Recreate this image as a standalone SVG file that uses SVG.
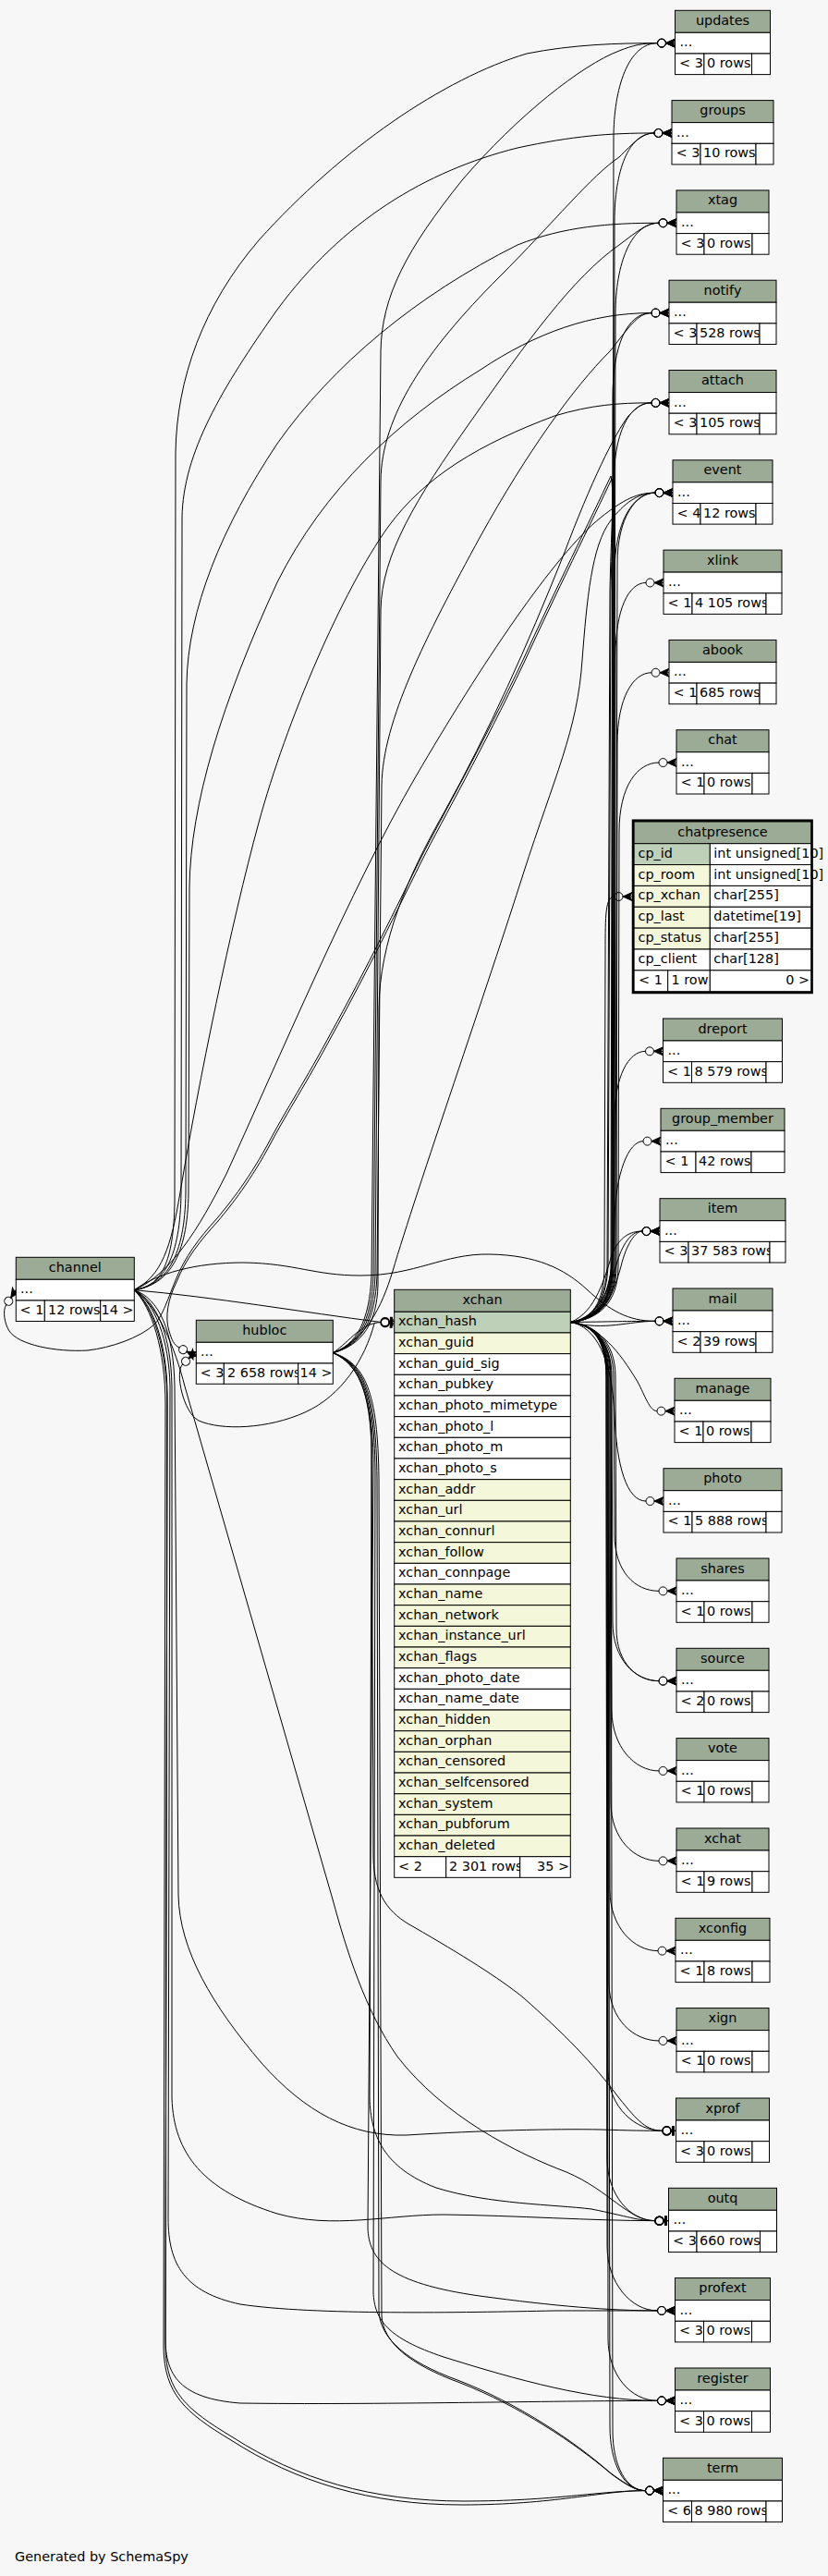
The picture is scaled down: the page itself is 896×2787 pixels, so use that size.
<svg xmlns="http://www.w3.org/2000/svg" width="896" height="2787" viewBox="0 0 896 2787">
<style>
text{font-family:"DejaVu Sans","Liberation Sans",sans-serif;font-size:14.4px;fill:#000}
.c{text-anchor:middle}
.r{text-anchor:end}
.h{fill:#9bab96;stroke:#000;stroke-width:1}
.w{fill:#fff;stroke:#000;stroke-width:1}
.p{fill:#bed1b8;stroke:#000;stroke-width:1}
.y{fill:#f4f7da;stroke:#000;stroke-width:1}
#connectors path{fill:none;stroke:#000;stroke-width:1}
#connectors path.ce{marker-end:url(#cro)}
#connectors path.te{marker-end:url(#teo)}
</style>
<defs>
<marker id="cro" markerUnits="userSpaceOnUse" orient="auto" markerWidth="20" markerHeight="12" refX="0" refY="6" overflow="visible">
<circle cx="4.5" cy="6" r="4.5" fill="none" stroke="#000" stroke-width="1"/>
<path d="M9,6 L19,6 M9,6 L19,1.5 L16.5,6 L19,10.5 Z" fill="#000" stroke="#000" stroke-width="1"/>
</marker>
<marker id="teo" markerUnits="userSpaceOnUse" orient="auto" markerWidth="16" markerHeight="12" refX="0" refY="6" overflow="visible">
<circle cx="4.5" cy="6" r="4.5" fill="none" stroke="#000" stroke-width="1.5"/>
<path d="M9,6 L14.5,6" stroke="#000" stroke-width="1"/>
<rect x="10" y="1" width="3" height="10" fill="#000"/>
</marker>
</defs>
<rect x="0" y="0" width="896" height="2787" fill="#f7f7f7"/>

<g id="connectors">
<!-- channel up -->
<path class="ce" d="M145.3,1395.7 C175,1392 188,1365 189,1300 L190,490 C191,410 220,330 280,260 C370,160 480,85 570,58 C620,48 670,46.65 711.5,46.65"/>
<path class="ce" d="M145.3,1395.7 C178,1390 195,1360 196,1290 L197,560 C198,490 240,420 300,335 C370,240 460,185 560,160 C620,147 660,143.95 708,143.95"/>
<path class="ce" d="M145.3,1395.7 C180,1390 200,1360 201,1290 L202,740 C203,660 240,570 300,480 C360,395 450,320 560,265 C610,245 660,241.25 713,241.25"/>
<path class="ce" d="M145.3,1395.7 C182,1390 203,1360 204,1290 L205,960 C206,870 240,760 300,630 C350,530 430,455 520,400 C580,360 640,338.55 705,338.55"/>
<path class="ce" d="M145.3,1395.7 C175,1380 185,1350 195,1290 C215,1170 250,1000 280,890 C310,780 370,640 420,570 C460,515 520,480 600,450 C640,438 670,435.85 705,435.85"/>
<path class="ce" d="M145.3,1395.7 C185,1378 215,1330 245,1270 C300,1150 380,960 450,840 C520,720 600,600 650,560 C675,540 690,533.15 709,533.15"/>
<!-- channel to xchan / mail -->
<path class="te" d="M145.3,1395.7 C230,1403 330,1420 412.2,1430.5"/>
<path class="ce" d="M145.3,1395.7 C170,1378 210,1366 264,1366 C320,1367 340,1380 390,1380 C450,1380 480,1356 530,1357 C580,1358 610,1372 635,1395 C660,1418 680,1429.35 709,1429.35"/>
<!-- channel down -->
<path class="te" d="M145.3,1395.7 C172,1405 188,1440 189,1500 L193,2050 C194,2110 230,2170 283,2232 C330,2285 380,2312 440,2310 C520,2305 600,2303 650,2304 C680,2305 700,2305.35 717,2305.35"/>
<path class="te" d="M145.3,1395.7 C170,1408 185,1445 186,1500 L186,2270 C188,2330 220,2370 300,2395 C360,2412 420,2396 480,2396 C560,2397 640,2402.65 709,2402.65"/>
<path class="te" d="M145.3,1395.7 C170,1410 190,1460 200,1500 L360,2055 C375,2110 395,2175 430,2225 C480,2290 560,2330 613,2350 C660,2370 680,2402.65 709,2402.65"/>
<path class="ce" d="M145.3,1395.7 C168,1410 183,1450 184,1500 L182,2400 C182,2450 200,2480 260,2493 C340,2505 500,2502 600,2500 C650,2499.95 690,2499.95 711.5,2499.95"/>
<path class="ce" d="M145.3,1395.7 C166,1412 181,1455 181,1510 L179,2530 C179,2570 195,2595 260,2600 C400,2602 600,2597.35 711.5,2597.35"/>
<path class="ce" d="M145.3,1395.7 C164,1414 179,1460 179,1520 L177,2540 C178,2590 200,2610 250,2640 C320,2685 400,2710 500,2710 C600,2710 650,2694.65 698.5,2694.65"/>
<path class="ce" d="M145.3,1395.7 C166,1414 181,1460 181,1520 L179,2540 C180,2588 202,2607 252,2637 C322,2682 402,2706 502,2706 C600,2706 650,2694.65 698.5,2694.65"/>
<!-- hubloc up -->
<path class="ce" d="M360.3,1463.7 C385,1455 400,1430 402,1380 L412,380 C413,320 440,270 500,195 C560,125 630,70 670,55 C685,49 695,46.65 711.5,46.65"/>
<path class="ce" d="M360.3,1463.7 C387,1455 402,1430 404,1380 L412,520 C413,450 460,380 540,300 C600,240 640,190 670,170 C685,155 695,143.95 708,143.95"/>
<path class="ce" d="M360.3,1463.7 C389,1455 404,1430 406,1380 L412,660 C413,600 450,540 510,455 C570,370 620,300 670,265 C690,250 700,241.25 713,241.25"/>
<path class="ce" d="M360.3,1463.7 C391,1455 406,1430 408,1380 L413,850 C414,780 460,690 520,580 C570,490 620,420 660,380 C680,355 690,338.55 705,338.55"/>
<path class="ce" d="M360.3,1463.7 C393,1455 408,1430 409,1390 L410,1090 C411,1020 440,950 480,880 C530,790 570,700 610,600 C640,520 665,470 680,450 C690,440 695,435.85 705,435.85"/>
<path class="ce" d="M360.3,1463.7 C395,1450 413,1415 425,1375 C450,1290 530,1060 566,946 C600,840 625,790 630,714 C635,650 640,590 661,563 C675,545 690,533.15 709,533.15"/>
<path class="te" d="M360.3,1463.7 C380,1450 390,1432 412.2,1430.5"/>
<!-- hubloc down -->
<path class="te" d="M360.3,1463.7 C385,1475 400,1500 402,1560 L404,2010 C405,2050 420,2070 448,2085 C500,2115 540,2140 566,2161 C610,2200 640,2230 670,2270 C690,2295 700,2305.35 717,2305.35"/>
<path class="te" d="M360.3,1463.7 C387,1475 401,1505 402,1570 L400,2270 C401,2310 415,2345 472,2367 C530,2385 600,2385 640,2390 C680,2398 690,2402.65 709,2402.65"/>
<path class="ce" d="M360.3,1463.7 C389,1475 403,1505 404,1580 L398,2410 C399,2445 420,2470 519,2484 C600,2495 660,2499.95 711.5,2499.95"/>
<path class="ce" d="M360.3,1463.7 C391,1475 405,1505 406,1590 L404,2480 C405,2510 420,2530 480,2550 C560,2575 640,2597.35 711.5,2597.35"/>
<path class="ce" d="M360.3,1463.7 C393,1475 407,1505 408,1600 L410,2500 C411,2530 440,2555 495,2575 C560,2600 620,2640 660,2675 C680,2690 690,2694.65 698.5,2694.65"/>
<path class="ce" d="M360.3,1463.7 C395,1475 409,1505 410,1600 L413,2505 C414,2534 443,2558 498,2578 C562,2603 622,2643 662,2677 C681,2691 690,2694.65 698.5,2694.65"/>
<!-- back edges into channel and hubloc -->
<path class="ce" d="M617.3,1430.5 C640,1428 655,1410 657,1370 L660,640 C661,580 665,530 661,515 C640,560 600,640 566,714 C520,810 480,880 455,929 C420,1000 390,1060 359,1116 C330,1170 310,1200 293,1232 C270,1275 250,1300 235,1318 C215,1340 200,1360 190,1385 C180,1410 175,1425 167,1433 C150,1448 120,1458 95,1461 C60,1463 20,1455 10,1440 C5,1432 2.4,1418.2 6.8,1411.5"/>
<path class="ce" d="M617.3,1430.5 C641,1428 656,1410 658,1370 L661,640 C662,580 666,532 662,518 C641,563 601,643 567,717 C521,813 481,883 456,932 C421,1003 391,1063 360,1119 C331,1173 311,1203 294,1235 C271,1278 251,1303 236,1321 C216,1343 201,1362 191,1387 C182,1405 178,1425 183,1440 C186,1450 188,1455 194.1,1458.1"/>
<path class="ce" d="M405,1432 C395,1470 370,1510 330,1528 C290,1546 240,1548 215,1537 C198,1528 189,1484 197.7,1475.9"/>
<!-- xchan up -->
<path class="ce" d="M617.3,1430.5 C642,1428 662,1410 662,1370 L664,150 C664,95 680,46.65 711.5,46.65"/>
<path class="ce" d="M617.3,1430.5 C643,1428 663,1410 663,1370 L665,240 C665,185 680,143.95 708,143.95"/>
<path class="ce" d="M617.3,1430.5 C644,1428 664,1410 664,1370 L666,340 C666,285 683,241.25 713,241.25"/>
<path class="ce" d="M617.3,1430.5 C642,1428 661,1410 661,1370 L663,430 C663,375 678,338.55 705,338.55"/>
<path class="ce" d="M617.3,1430.5 C643,1428 662,1410 662,1370 L664,525 C664,470 680,435.85 705,435.85"/>
<path class="ce" d="M617.3,1430.5 C644,1428 663,1410 663,1370 L665,620 C665,565 685,533.15 709,533.15"/>
<path class="ce" d="M617.3,1430.5 C645,1428 666,1410 666,1370 L668,610 C668,560 688,533.15 709,533.15"/>
<path class="ce" d="M617.3,1430.5 C645,1428 665,1410 665,1370 L666,710 C666,660 680,630.45 699,630.45"/>
<path class="ce" d="M617.3,1430.5 C646,1428 667,1410 667,1370 L668,805 C668,755 685,727.75 705,727.75"/>
<path class="ce" d="M617.3,1430.5 C647,1428 669,1410 669,1370 L670,900 C670,850 690,825.05 713,825.05"/>
<path class="ce" d="M617.3,1430.5 C640,1428 654,1410 654,1370 L655,1030 C655,990 655,970 665,970"/>
<path class="ce" d="M617.3,1430.5 C648,1428 663,1400 664,1340 L665,1210 C665,1165 680,1137.35 698.5,1137.35"/>
<path class="ce" d="M617.3,1430.5 C650,1428 664,1400 665,1320 C666,1270 680,1234.65 696,1234.65"/>
<path class="ce" d="M617.3,1430.5 C650,1425 660,1390 668,1365 C675,1342 685,1332.05 695,1332.05"/>
<path class="ce" d="M617.3,1430.5 C655,1428 665,1395 672,1370 C678,1345 688,1332.05 695,1332.05"/>
<path class="ce" d="M617.3,1430.5 C645,1420 655,1380 662,1358 C670,1338 682,1332.05 695,1332.05"/>
<path class="ce" d="M617.3,1430.5 C660,1430 680,1429.35 709,1429.35"/>
<path class="ce" d="M617.3,1430.5 C655,1440 680,1429.35 709,1429.35"/>
<!-- xchan down -->
<path class="ce" d="M617.3,1430.5 C650,1436 670,1462 690,1495 C698,1510 703,1526.65 711,1526.65"/>
<path class="ce" d="M617.3,1430.5 C645,1435 662,1470 665,1530 C667,1585 678,1624.05 699,1624.05"/>
<path class="ce" d="M617.3,1430.5 C642,1433 664,1450 664,1490 L665,1660 C665,1700 687,1721.35 713,1721.35"/>
<path class="ce" d="M617.3,1430.5 C642,1433 662,1450 662,1490 L663,1755 C663,1795 687,1818.65 713,1818.65"/>
<path class="ce" d="M617.3,1430.5 C643,1433 666,1450 666,1490 L667,1762 C667,1800 690,1818.65 713,1818.65"/>
<path class="ce" d="M617.3,1430.5 C642,1433 661,1450 661,1490 L662,1850 C662,1890 687,1915.95 713,1915.95"/>
<path class="ce" d="M617.3,1430.5 C642,1433 660,1450 660,1490 L661,1950 C661,1990 687,2013.35 713,2013.35"/>
<path class="ce" d="M617.3,1430.5 C642,1433 659,1450 659,1490 L660,2045 C660,2085 686,2110.65 712,2110.65"/>
<path class="ce" d="M617.3,1430.5 C642,1433 658,1450 658,1490 L659,2145 C659,2185 686,2207.95 713,2207.95"/>
<path class="te" d="M617.3,1430.5 C642,1433 657,1450 657,1490 L658,2240 C658,2280 688,2305.35 717,2305.35"/>
<path class="te" d="M617.3,1430.5 C642,1433 656,1450 656,1490 L657,2335 C657,2375 682,2402.65 709,2402.65"/>
<path class="ce" d="M617.3,1430.5 C642,1433 656,1450 656,1490 L657,2430 C657,2470 683,2499.95 711.5,2499.95"/>
<path class="ce" d="M617.3,1430.5 C642,1433 657,1450 657,1490 L658,2530 C658,2570 683,2597.35 711.5,2597.35"/>
<path class="ce" d="M617.3,1430.5 C642,1433 658,1450 658,1490 L660,2625 C660,2665 675,2694.65 698.5,2694.65"/>
<path class="ce" d="M617.3,1430.5 C643,1433 661,1450 661,1490 L663,2630 C663,2668 678,2694.65 698.5,2694.65"/>
</g>

<g id="updates"><rect class="h" x="730.5" y="11.3" width="103" height="24"/><text class="c" x="782" y="26.8">updates</text><rect class="w" x="730.5" y="35.3" width="103" height="22.7"/><text x="735.5" y="50.3">...</text><rect class="w" x="730.5" y="58" width="31.4" height="22.6"/><rect class="w" x="761.9" y="58" width="51.6" height="22.6"/><text x="735" y="73">&lt; 3</text><text x="765" y="73">0 rows</text><rect class="w" x="813.5" y="58" width="20" height="22.6"/></g>
<g id="groups"><rect class="h" x="727" y="108.6" width="110" height="24"/><text class="c" x="782" y="124.1">groups</text><rect class="w" x="727" y="132.6" width="110" height="22.7"/><text x="732" y="147.6">...</text><rect class="w" x="727" y="155.3" width="31" height="22.6"/><rect class="w" x="758" y="155.3" width="60" height="22.6"/><text x="731.5" y="170.3">&lt; 3</text><text x="761" y="170.3">10 rows</text><rect class="w" x="818" y="155.3" width="19" height="22.6"/></g>
<g id="xtag"><rect class="h" x="732" y="205.9" width="100" height="24"/><text class="c" x="782" y="221.4">xtag</text><rect class="w" x="732" y="229.9" width="100" height="22.7"/><text x="737" y="244.9">...</text><rect class="w" x="732" y="252.6" width="30" height="22.6"/><rect class="w" x="762" y="252.6" width="52" height="22.6"/><text x="736.5" y="267.6">&lt; 3</text><text x="765" y="267.6">0 rows</text><rect class="w" x="814" y="252.6" width="18" height="22.6"/></g>
<g id="notify"><rect class="h" x="724" y="303.2" width="116" height="24"/><text class="c" x="782" y="318.7">notify</text><rect class="w" x="724" y="327.2" width="116" height="22.7"/><text x="729" y="342.2">...</text><rect class="w" x="724" y="349.9" width="30" height="22.6"/><rect class="w" x="754" y="349.9" width="68" height="22.6"/><text x="728.5" y="364.9">&lt; 3</text><text x="757" y="364.9">528 rows</text><rect class="w" x="822" y="349.9" width="18" height="22.6"/></g>
<g id="attach"><rect class="h" x="724" y="400.5" width="116" height="24"/><text class="c" x="782" y="416">attach</text><rect class="w" x="724" y="424.5" width="116" height="22.7"/><text x="729" y="439.5">...</text><rect class="w" x="724" y="447.2" width="30" height="22.6"/><rect class="w" x="754" y="447.2" width="68" height="22.6"/><text x="728.5" y="462.2">&lt; 3</text><text x="757" y="462.2">105 rows</text><rect class="w" x="822" y="447.2" width="18" height="22.6"/></g>
<g id="event"><rect class="h" x="728" y="497.8" width="108" height="24"/><text class="c" x="782" y="513.3">event</text><rect class="w" x="728" y="521.8" width="108" height="22.7"/><text x="733" y="536.8">...</text><rect class="w" x="728" y="544.5" width="30" height="22.6"/><rect class="w" x="758" y="544.5" width="60" height="22.6"/><text x="732.5" y="559.5">&lt; 4</text><text x="761" y="559.5">12 rows</text><rect class="w" x="818" y="544.5" width="18" height="22.6"/></g>
<g id="xlink"><rect class="h" x="718" y="595.1" width="128" height="24"/><text class="c" x="782" y="610.6">xlink</text><rect class="w" x="718" y="619.1" width="128" height="22.7"/><text x="723" y="634.1">...</text><rect class="w" x="718" y="641.8" width="31" height="22.6"/><rect class="w" x="749" y="641.8" width="80" height="22.6"/><text x="722.5" y="656.8">&lt; 1</text><text x="752" y="656.8">4 105 rows</text><rect class="w" x="829" y="641.8" width="17" height="22.6"/></g>
<g id="abook"><rect class="h" x="724" y="692.4" width="116" height="24"/><text class="c" x="782" y="707.9">abook</text><rect class="w" x="724" y="716.4" width="116" height="22.7"/><text x="729" y="731.4">...</text><rect class="w" x="724" y="739.1" width="30" height="22.6"/><rect class="w" x="754" y="739.1" width="68" height="22.6"/><text x="728.5" y="754.1">&lt; 1</text><text x="757" y="754.1">685 rows</text><rect class="w" x="822" y="739.1" width="18" height="22.6"/></g>
<g id="chat"><rect class="h" x="732" y="789.7" width="100" height="24"/><text class="c" x="782" y="805.2">chat</text><rect class="w" x="732" y="813.7" width="100" height="22.7"/><text x="737" y="828.7">...</text><rect class="w" x="732" y="836.4" width="30" height="22.6"/><rect class="w" x="762" y="836.4" width="52" height="22.6"/><text x="736.5" y="851.4">&lt; 1</text><text x="765" y="851.4">0 rows</text><rect class="w" x="814" y="836.4" width="18" height="22.6"/></g>

<g id="chatpresence">
<rect class="h" x="686" y="889" width="192" height="23.7"/><text class="c" x="782" y="904.6">chatpresence</text>
<rect class="p" x="686" y="912.7" width="82.3" height="22.86"/><rect class="w" x="768.3" y="912.7" width="109.7" height="22.86"/>
<rect class="y" x="686" y="935.56" width="82.3" height="22.86"/><rect class="w" x="768.3" y="935.56" width="109.7" height="22.86"/>
<rect class="y" x="686" y="958.42" width="82.3" height="22.86"/><rect class="w" x="768.3" y="958.42" width="109.7" height="22.86"/>
<rect class="y" x="686" y="981.28" width="82.3" height="22.86"/><rect class="w" x="768.3" y="981.28" width="109.7" height="22.86"/>
<rect class="y" x="686" y="1004.14" width="82.3" height="22.86"/><rect class="w" x="768.3" y="1004.14" width="109.7" height="22.86"/>
<rect class="w" x="686" y="1027" width="82.3" height="22.86"/><rect class="w" x="768.3" y="1027" width="109.7" height="22.86"/>
<rect class="w" x="686" y="1049.86" width="36.7" height="22.86"/><rect class="w" x="722.7" y="1049.86" width="45.6" height="22.86"/><rect class="w" x="768.3" y="1049.86" width="109.7" height="22.86"/>
<rect x="685" y="887.7" width="193.6" height="186.3" fill="none" stroke="#000" stroke-width="2.5"/>
<text x="690.5" y="927.7">cp_id</text><text x="772.3" y="927.7">int unsigned[10]</text>
<text x="690.5" y="950.6">cp_room</text><text x="772.3" y="950.6">int unsigned[10]</text>
<text x="690.5" y="973.4">cp_xchan</text><text x="772.3" y="973.4">char[255]</text>
<text x="690.5" y="996.3">cp_last</text><text x="772.3" y="996.3">datetime[19]</text>
<text x="690.5" y="1019.1">cp_status</text><text x="772.3" y="1019.1">char[255]</text>
<text x="690.5" y="1042">cp_client</text><text x="772.3" y="1042">char[128]</text>
<text x="691" y="1064.9">&lt; 1</text><text x="726.5" y="1064.9">1 row</text><text class="r" x="876" y="1064.9">0 &gt;</text>
</g>

<g id="dreport"><rect class="h" x="717.5" y="1102" width="129" height="24"/><text class="c" x="782" y="1117.5">dreport</text><rect class="w" x="717.5" y="1126" width="129" height="22.7"/><text x="722.5" y="1141">...</text><rect class="w" x="717.5" y="1148.7" width="31" height="22.6"/><rect class="w" x="748.5" y="1148.7" width="80.5" height="22.6"/><text x="722" y="1163.7">&lt; 1</text><text x="751.5" y="1163.7">8 579 rows</text><rect class="w" x="829" y="1148.7" width="17.5" height="22.6"/></g>
<g id="group_member"><rect class="h" x="715" y="1199.3" width="134" height="24"/><text class="c" x="782" y="1214.8">group_member</text><rect class="w" x="715" y="1223.3" width="134" height="22.7"/><text x="720" y="1238.3">...</text><rect class="w" x="715" y="1246" width="38" height="22.6"/><rect class="w" x="753" y="1246" width="60" height="22.6"/><text x="719.5" y="1261">&lt; 1</text><text x="756" y="1261">42 rows</text><rect class="w" x="813" y="1246" width="36" height="22.6"/></g>
<g id="item"><rect class="h" x="714" y="1296.7" width="136" height="24"/><text class="c" x="782" y="1312.2">item</text><rect class="w" x="714" y="1320.7" width="136" height="22.7"/><text x="719" y="1335.7">...</text><rect class="w" x="714" y="1343.4" width="31" height="22.6"/><rect class="w" x="745" y="1343.4" width="88" height="22.6"/><text x="718.5" y="1358.4">&lt; 3</text><text x="748" y="1358.4">37 583 rows</text><rect class="w" x="833" y="1343.4" width="17" height="22.6"/></g>
<g id="mail"><rect class="h" x="728" y="1394" width="108" height="24"/><text class="c" x="782" y="1409.5">mail</text><rect class="w" x="728" y="1418" width="108" height="22.7"/><text x="733" y="1433">...</text><rect class="w" x="728" y="1440.7" width="30" height="22.6"/><rect class="w" x="758" y="1440.7" width="60" height="22.6"/><text x="732.5" y="1455.7">&lt; 2</text><text x="761" y="1455.7">39 rows</text><rect class="w" x="818" y="1440.7" width="18" height="22.6"/></g>
<g id="manage"><rect class="h" x="730" y="1491.3" width="104" height="24"/><text class="c" x="782" y="1506.8">manage</text><rect class="w" x="730" y="1515.3" width="104" height="22.7"/><text x="735" y="1530.3">...</text><rect class="w" x="730" y="1538" width="31" height="22.6"/><rect class="w" x="761" y="1538" width="52" height="22.6"/><text x="734.5" y="1553">&lt; 1</text><text x="764" y="1553">0 rows</text><rect class="w" x="813" y="1538" width="21" height="22.6"/></g>
<g id="photo"><rect class="h" x="718" y="1588.7" width="128" height="24"/><text class="c" x="782" y="1604.2">photo</text><rect class="w" x="718" y="1612.7" width="128" height="22.7"/><text x="723" y="1627.7">...</text><rect class="w" x="718" y="1635.4" width="31" height="22.6"/><rect class="w" x="749" y="1635.4" width="80" height="22.6"/><text x="722.5" y="1650.4">&lt; 1</text><text x="752" y="1650.4">5 888 rows</text><rect class="w" x="829" y="1635.4" width="17" height="22.6"/></g>
<g id="shares"><rect class="h" x="732" y="1686" width="100" height="24"/><text class="c" x="782" y="1701.5">shares</text><rect class="w" x="732" y="1710" width="100" height="22.7"/><text x="737" y="1725">...</text><rect class="w" x="732" y="1732.7" width="30" height="22.6"/><rect class="w" x="762" y="1732.7" width="52" height="22.6"/><text x="736.5" y="1747.7">&lt; 1</text><text x="765" y="1747.7">0 rows</text><rect class="w" x="814" y="1732.7" width="18" height="22.6"/></g>
<g id="source"><rect class="h" x="732" y="1783.3" width="100" height="24"/><text class="c" x="782" y="1798.8">source</text><rect class="w" x="732" y="1807.3" width="100" height="22.7"/><text x="737" y="1822.3">...</text><rect class="w" x="732" y="1830" width="30" height="22.6"/><rect class="w" x="762" y="1830" width="52" height="22.6"/><text x="736.5" y="1845">&lt; 2</text><text x="765" y="1845">0 rows</text><rect class="w" x="814" y="1830" width="18" height="22.6"/></g>
<g id="vote"><rect class="h" x="732" y="1880.6" width="100" height="24"/><text class="c" x="782" y="1896.1">vote</text><rect class="w" x="732" y="1904.6" width="100" height="22.7"/><text x="737" y="1919.6">...</text><rect class="w" x="732" y="1927.3" width="30" height="22.6"/><rect class="w" x="762" y="1927.3" width="52" height="22.6"/><text x="736.5" y="1942.3">&lt; 1</text><text x="765" y="1942.3">0 rows</text><rect class="w" x="814" y="1927.3" width="18" height="22.6"/></g>
<g id="xchat"><rect class="h" x="732" y="1978" width="100" height="24"/><text class="c" x="782" y="1993.5">xchat</text><rect class="w" x="732" y="2002" width="100" height="22.7"/><text x="737" y="2017">...</text><rect class="w" x="732" y="2024.7" width="30" height="22.6"/><rect class="w" x="762" y="2024.7" width="52" height="22.6"/><text x="736.5" y="2039.7">&lt; 1</text><text x="765" y="2039.7">9 rows</text><rect class="w" x="814" y="2024.7" width="18" height="22.6"/></g>
<g id="xconfig"><rect class="h" x="731" y="2075.3" width="102" height="24"/><text class="c" x="782" y="2090.8">xconfig</text><rect class="w" x="731" y="2099.3" width="102" height="22.7"/><text x="736" y="2114.3">...</text><rect class="w" x="731" y="2122" width="31" height="22.6"/><rect class="w" x="762" y="2122" width="52" height="22.6"/><text x="735.5" y="2137">&lt; 1</text><text x="765" y="2137">8 rows</text><rect class="w" x="814" y="2122" width="19" height="22.6"/></g>
<g id="xign"><rect class="h" x="732" y="2172.6" width="100" height="24"/><text class="c" x="782" y="2188.1">xign</text><rect class="w" x="732" y="2196.6" width="100" height="22.7"/><text x="737" y="2211.6">...</text><rect class="w" x="732" y="2219.3" width="30" height="22.6"/><rect class="w" x="762" y="2219.3" width="52" height="22.6"/><text x="736.5" y="2234.3">&lt; 1</text><text x="765" y="2234.3">0 rows</text><rect class="w" x="814" y="2219.3" width="18" height="22.6"/></g>
<g id="xprof"><rect class="h" x="731.5" y="2270" width="101" height="24"/><text class="c" x="782" y="2285.5">xprof</text><rect class="w" x="731.5" y="2294" width="101" height="22.7"/><text x="736.5" y="2309">...</text><rect class="w" x="731.5" y="2316.7" width="30.5" height="22.6"/><rect class="w" x="762" y="2316.7" width="52" height="22.6"/><text x="736" y="2331.7">&lt; 3</text><text x="765" y="2331.7">0 rows</text><rect class="w" x="814" y="2316.7" width="18.5" height="22.6"/></g>
<g id="outq"><rect class="h" x="723.5" y="2367.3" width="117" height="24"/><text class="c" x="782" y="2382.8">outq</text><rect class="w" x="723.5" y="2391.3" width="117" height="22.7"/><text x="728.5" y="2406.3">...</text><rect class="w" x="723.5" y="2414" width="30.5" height="22.6"/><rect class="w" x="754" y="2414" width="68.5" height="22.6"/><text x="728" y="2429">&lt; 3</text><text x="757" y="2429">660 rows</text><rect class="w" x="822.5" y="2414" width="18" height="22.6"/></g>
<g id="profext"><rect class="h" x="730.5" y="2464.6" width="103" height="24"/><text class="c" x="782" y="2480.1">profext</text><rect class="w" x="730.5" y="2488.6" width="103" height="22.7"/><text x="735.5" y="2503.6">...</text><rect class="w" x="730.5" y="2511.3" width="31" height="22.6"/><rect class="w" x="761.5" y="2511.3" width="52" height="22.6"/><text x="735" y="2526.3">&lt; 3</text><text x="764.5" y="2526.3">0 rows</text><rect class="w" x="813.5" y="2511.3" width="20" height="22.6"/></g>
<g id="register"><rect class="h" x="730.5" y="2562" width="103" height="24"/><text class="c" x="782" y="2577.5">register</text><rect class="w" x="730.5" y="2586" width="103" height="22.7"/><text x="735.5" y="2601">...</text><rect class="w" x="730.5" y="2608.7" width="31" height="22.6"/><rect class="w" x="761.5" y="2608.7" width="52" height="22.6"/><text x="735" y="2623.7">&lt; 3</text><text x="764.5" y="2623.7">0 rows</text><rect class="w" x="813.5" y="2608.7" width="20" height="22.6"/></g>
<g id="term"><rect class="h" x="717.5" y="2659.3" width="129" height="24"/><text class="c" x="782" y="2674.8">term</text><rect class="w" x="717.5" y="2683.3" width="129" height="22.7"/><text x="722.5" y="2698.3">...</text><rect class="w" x="717.5" y="2706" width="31" height="22.6"/><rect class="w" x="748.5" y="2706" width="80.5" height="22.6"/><text x="722" y="2721">&lt; 6</text><text x="751.5" y="2721">8 980 rows</text><rect class="w" x="829" y="2706" width="17.5" height="22.6"/></g>

<g id="channel"><rect class="h" x="17.3" y="1360.3" width="128" height="24"/><text class="c" x="81.3" y="1375.8">channel</text><rect class="w" x="17.3" y="1384.3" width="128" height="22.7"/><text x="22" y="1399.3">...</text><rect class="w" x="17.3" y="1407" width="31" height="22.5"/><rect class="w" x="48.3" y="1407" width="60.4" height="22.5"/><text x="21.5" y="1422">&lt; 1</text><text x="52" y="1422">12 rows</text><rect class="w" x="108.7" y="1407" width="36.6" height="22.5"/><text class="r" x="144.5" y="1422">14 &gt;</text></g>
<g id="hubloc"><rect class="h" x="212.3" y="1428.3" width="148" height="24"/><text class="c" x="286.3" y="1443.8">hubloc</text><rect class="w" x="212.3" y="1452.3" width="148" height="22.7"/><text x="217" y="1467.3">...</text><rect class="w" x="212.3" y="1475" width="30" height="22.3"/><rect class="w" x="242.3" y="1475" width="80.4" height="22.3"/><text x="216.5" y="1490">&lt; 3</text><text x="246" y="1490">2 658 rows</text><rect class="w" x="322.7" y="1475" width="37.6" height="22.3"/><text class="r" x="359.5" y="1490">14 &gt;</text></g>

<g id="xchan">
<rect class="h" x="426.7" y="1395.3" width="190.6" height="24"/><text class="c" x="522" y="1410.8">xchan</text>
<rect class="p" x="426.7" y="1419.3" width="190.6" height="22.67"/><text x="431" y="1434.3">xchan_hash</text>
<rect class="y" x="426.7" y="1441.97" width="190.6" height="22.67"/><text x="431" y="1457">xchan_guid</text>
<rect class="w" x="426.7" y="1464.64" width="190.6" height="22.67"/><text x="431" y="1479.6">xchan_guid_sig</text>
<rect class="w" x="426.7" y="1487.31" width="190.6" height="22.67"/><text x="431" y="1502.3">xchan_pubkey</text>
<rect class="w" x="426.7" y="1509.98" width="190.6" height="22.67"/><text x="431" y="1525">xchan_photo_mimetype</text>
<rect class="w" x="426.7" y="1532.65" width="190.6" height="22.67"/><text x="431" y="1547.6">xchan_photo_l</text>
<rect class="w" x="426.7" y="1555.32" width="190.6" height="22.67"/><text x="431" y="1570.3">xchan_photo_m</text>
<rect class="w" x="426.7" y="1577.99" width="190.6" height="22.67"/><text x="431" y="1593">xchan_photo_s</text>
<rect class="y" x="426.7" y="1600.66" width="190.6" height="22.67"/><text x="431" y="1615.7">xchan_addr</text>
<rect class="y" x="426.7" y="1623.33" width="190.6" height="22.67"/><text x="431" y="1638.3">xchan_url</text>
<rect class="y" x="426.7" y="1646" width="190.6" height="22.67"/><text x="431" y="1661">xchan_connurl</text>
<rect class="y" x="426.7" y="1668.67" width="190.6" height="22.67"/><text x="431" y="1683.7">xchan_follow</text>
<rect class="w" x="426.7" y="1691.34" width="190.6" height="22.67"/><text x="431" y="1706.3">xchan_connpage</text>
<rect class="y" x="426.7" y="1714.01" width="190.6" height="22.67"/><text x="431" y="1729">xchan_name</text>
<rect class="y" x="426.7" y="1736.68" width="190.6" height="22.67"/><text x="431" y="1751.7">xchan_network</text>
<rect class="y" x="426.7" y="1759.35" width="190.6" height="22.67"/><text x="431" y="1774.4">xchan_instance_url</text>
<rect class="y" x="426.7" y="1782.02" width="190.6" height="22.67"/><text x="431" y="1797">xchan_flags</text>
<rect class="w" x="426.7" y="1804.69" width="190.6" height="22.67"/><text x="431" y="1819.7">xchan_photo_date</text>
<rect class="w" x="426.7" y="1827.36" width="190.6" height="22.67"/><text x="431" y="1842.4">xchan_name_date</text>
<rect class="y" x="426.7" y="1850.03" width="190.6" height="22.67"/><text x="431" y="1865">xchan_hidden</text>
<rect class="y" x="426.7" y="1872.7" width="190.6" height="22.67"/><text x="431" y="1887.7">xchan_orphan</text>
<rect class="y" x="426.7" y="1895.37" width="190.6" height="22.67"/><text x="431" y="1910.4">xchan_censored</text>
<rect class="y" x="426.7" y="1918.04" width="190.6" height="22.67"/><text x="431" y="1933">xchan_selfcensored</text>
<rect class="y" x="426.7" y="1940.71" width="190.6" height="22.67"/><text x="431" y="1955.7">xchan_system</text>
<rect class="y" x="426.7" y="1963.38" width="190.6" height="22.67"/><text x="431" y="1978.4">xchan_pubforum</text>
<rect class="y" x="426.7" y="1986.05" width="190.6" height="22.67"/><text x="431" y="2001">xchan_deleted</text>
<rect class="w" x="426.7" y="2008.72" width="56" height="22.6"/><rect class="w" x="482.7" y="2008.72" width="80" height="22.6"/><text x="431" y="2023.7">&lt; 2</text><text x="486" y="2023.7">2 301 rows</text><rect class="w" x="562.7" y="2008.72" width="54.6" height="22.6"/><text class="r" x="616" y="2023.7">35 &gt;</text>
</g>

<text x="16" y="2771">Generated by SchemaSpy</text>
</svg>
